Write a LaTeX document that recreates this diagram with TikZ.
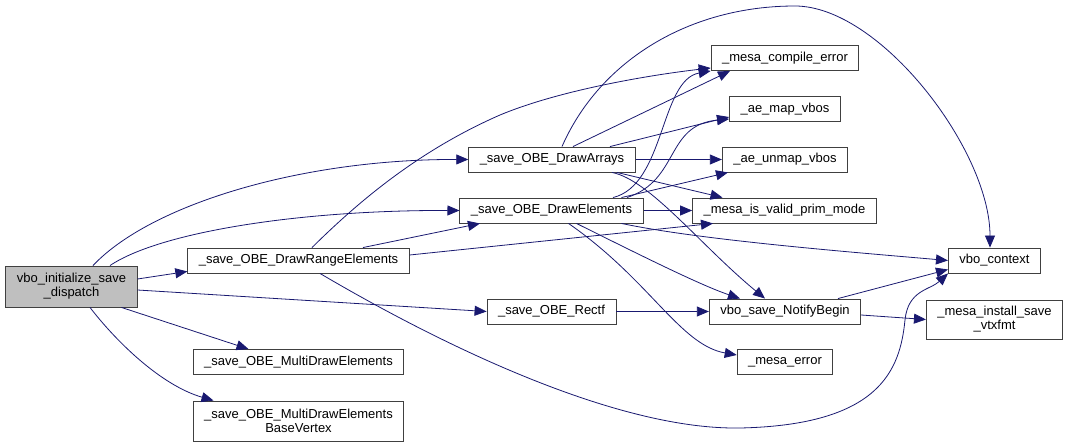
\documentclass[tikz,border=0pt]{standalone}
\usepackage{fontspec}
\setmainfont{Liberation Sans}
\usetikzlibrary{arrows.meta}
\definecolor{edgeblue}{RGB}{25,25,112}

\begin{document}
\begin{tikzpicture}[x=1pt, y=-1pt,
        fn/.style={draw=black!75, line width=0.9pt, fill=white, align=center,
            font=\fontsize{13}{14}\selectfont, inner xsep=11pt, inner ysep=0pt,
            minimum height=25pt},
        call/.style={edgeblue, line width=0.8pt, -{Triangle[length=12pt,width=10pt]}}]
        \useasboundingbox (0,0) rectangle (1069,447);

        % --- 1. Functions ---
        \node[fn, fill=black!25, minimum height=41pt] (disp) at (71.5,286.5) {vbo\_initialize\_save\\\_dispatch};
        \node[fn] (range) at (298.5,260.5) {\_save\_OBE\_DrawRangeElements};
        \node[fn] (multi) at (298.5,362) {\_save\_OBE\_MultiDrawElements};
        \node[fn, minimum height=40pt] (basev) at (298.5,421) {\_save\_OBE\_MultiDrawElements\\BaseVertex};
        \node[fn] (arrays) at (552,159.5) {\_save\_OBE\_DrawArrays};
        \node[fn] (elems) at (551.5,210.5) {\_save\_OBE\_DrawElements};
        \node[fn] (rectf) at (551.5,311.5) {\_save\_OBE\_Rectf};
        \node[fn] (comperr) at (785,58) {\_mesa\_compile\_error};
        \node[fn] (map) at (785,109) {\_ae\_map\_vbos};
        \node[fn] (unmap) at (785,159.5) {\_ae\_unmap\_vbos};
        \node[fn] (prim) at (784.5,210.5) {\_mesa\_is\_valid\_prim\_mode};
        \node[fn] (notify) at (785,311.5) {vbo\_save\_NotifyBegin};
        \node[fn] (mesaerr) at (785,362) {\_mesa\_error};
        \node[fn] (vctx) at (994.5,260.5) {vbo\_context};
        \node[fn, minimum height=39pt] (install) at (994.5,319.5) {\_mesa\_install\_save\\\_vtxfmt};

        % --- 2. Calls from the dispatch setup ---
        \draw[call] ([xshift=21.5pt]disp.north) .. controls (150,205) and (300,159) .. (arrays.west);
        \draw[call] ([xshift=38.5pt]disp.north) .. controls (160,232) and (300,210) .. (elems.west);
        \draw[call] ([yshift=7.5pt]disp.east) -- ([yshift=2pt]range.south west);
        \draw[call] ([yshift=-3.5pt]disp.east) -- (rectf.west);
        \draw[call] ([xshift=50pt]disp.south) -- ([xshift=-50pt]multi.north);
        \draw[call] ([xshift=18.5pt]disp.south) .. controls (115,340) and (160,385) .. ([xshift=-85pt]basev.north);

        % --- 3. DrawRangeElements ---
        \draw[call] ([xshift=13.5pt]range.north) .. controls (360,200) and (420,150) .. (500,115)
            .. controls (560,90) and (650,75) .. ([yshift=-10pt]comperr.west);
        \draw[call] ([xshift=64.5pt]range.north) -- ([xshift=-71.5pt]elems.south);
        \draw[call] ([yshift=5.5pt]range.east) -- ([xshift=-71.5pt]prim.south);
        \draw[call] ([xshift=21.5pt]range.south) .. controls (450,350) and (620,430) .. (740,428)
            .. controls (880,425) and (900,370) .. (905,320)
            .. controls (908,290) and (930,290) .. (vctx.south west);

        % --- 4. DrawArrays ---
        \draw[call] ([xshift=21pt]arrays.north) -- ([xshift=-55pt]comperr.south);
        \draw[call] ([xshift=10pt]arrays.north) .. controls (600,60) and (690,6) .. (795,6)
            .. controls (880,6) and (990,150) .. ([xshift=-4.5pt]vctx.north);
        \draw[call] ([xshift=58pt]arrays.north) -- ([yshift=-8pt]map.west);
        \draw[call] (arrays.east) -- (unmap.west);
        \draw[call] ([xshift=65pt]arrays.south) -- ([xshift=-62pt]prim.north);
        \draw[call] ([xshift=60pt]arrays.south) .. controls (650,180) and (700,245) .. ([xshift=-20pt]notify.north);

        % --- 5. DrawElements ---
        \draw[call] ([xshift=61.5pt]elems.north) .. controls (665,185) and (660,80) .. (comperr.south west);
        \draw[call] ([xshift=75.5pt]elems.north) .. controls (680,180) and (665,125) .. ([yshift=-10pt]map.west);
        \draw[call] ([xshift=70pt]elems.north) -- ([xshift=-57pt]unmap.south);
        \draw[call] (elems.east) -- (prim.west);
        \draw[call] ([xshift=70pt]elems.south) .. controls (700,240) and (850,252) .. (vctx.west);
        \draw[call] ([xshift=25pt]elems.south) .. controls (640,255) and (700,285) .. ([xshift=-45pt]notify.north);
        \draw[call] ([xshift=17pt]elems.south) .. controls (650,280) and (680,345) .. ([yshift=7pt]mesaerr.west);

        % --- 6. Rectf and NotifyBegin ---
        \draw[call] (rectf.east) -- (notify.west);
        \draw[call] ([xshift=53pt]notify.north) -- ([yshift=-9pt]vctx.west);
        \draw[call] ([yshift=-3.5pt]notify.east) -- (install.west);

    \end{tikzpicture}
\end{document}
